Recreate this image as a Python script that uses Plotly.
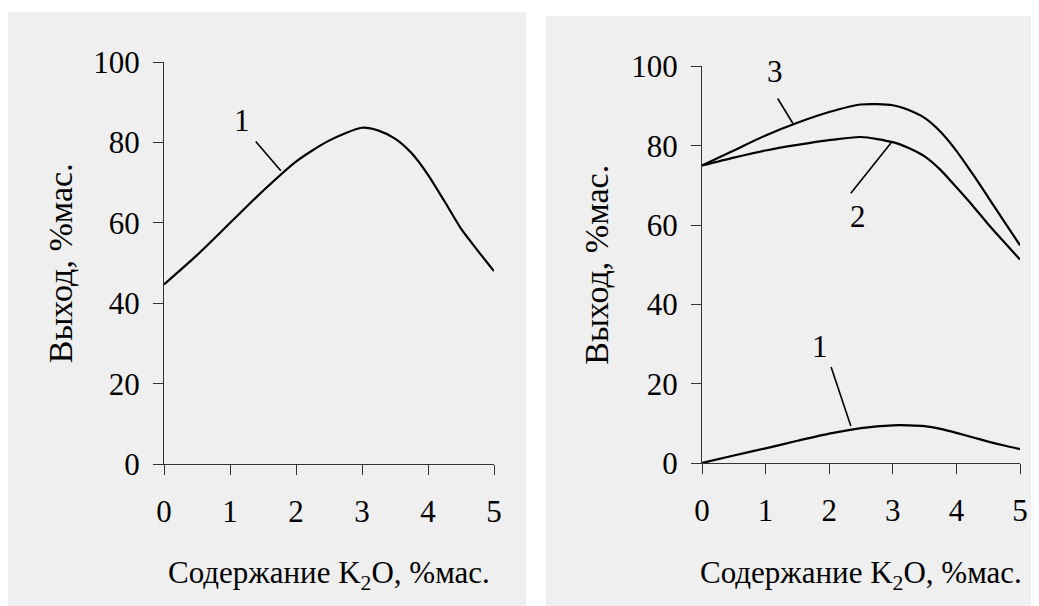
import plotly.graph_objects as go

W, H = 1039, 606
OFF = 8  # page offset of the figure inside the browser window

# ---------------- data ----------------
x_a = [0, 0.5, 1, 1.5, 2, 2.5, 3, 3.25, 3.5, 3.75, 4, 4.25, 4.5, 4.75, 5]
y_a1 = [44.7, 52, 60, 68, 75.3, 80.5, 83.7, 83.0, 81.0, 77.4, 72, 65.4, 58.6, 53.2, 48]

x_b = [0, 0.5, 1, 1.5, 2, 2.5, 3, 3.25, 3.5, 3.75, 4, 4.25, 4.5, 4.75, 5]
y_b1 = [0, 1.9, 3.7, 5.6, 7.4, 8.8, 9.5, 9.5, 9.3, 8.6, 7.6, 6.5, 5.4, 4.4, 3.5]
y_b2 = [75, 77, 78.8, 80.2, 81.4, 82.2, 80.9, 79.4, 77.3, 73.9, 69.5, 65.0, 60.2, 55.7, 51.3]
y_b3 = [75, 78.8, 82.6, 85.8, 88.5, 90.4, 90.2, 89.0, 87, 83.5, 78.7, 73.0, 67, 60.9, 54.9]

x_ticks = [0, 1, 2, 3, 4, 5]
y_ticks = [0, 20, 40, 60, 80, 100]

y_title = "Выход, %мас."
x_title = "Содержание K<sub>2</sub>O, %мас."
panel_titles = ["а", "б"]

# curve labels: (text, label_x, label_y, leader_x0, leader_y0, leader_x1, leader_y1)
labels_a = [("1", 1.18, 85.6, 1.39, 80.3, 1.77, 73.0)]
labels_b = [
    ("3", 1.14, 98.7, 1.19, 91.9, 1.43, 85.6),
    ("2", 2.46, 62.2, 2.34, 68.0, 2.98, 80.9),
    ("1", 1.86, 29.5, 2.03, 24.2, 2.34, 9.3),
]
title_pos = [(2.38, 101.5), (2.67, 103.3)]

# ---------------- figure ----------------
FONT = "Liberation Serif"
BG = "#efefef"
FS = 31


def px(x):
    return (x - OFF) / W


def py(y):
    return 1 - (y - OFF) / H


fig = go.Figure()

line_style = dict(color="black", width=2.2, shape="spline", smoothing=0.7)
fig.add_trace(go.Scatter(x=x_a, y=y_a1, mode="lines", line=line_style, xaxis="x", yaxis="y", showlegend=False))
for yy in (y_b1, y_b2, y_b3):
    fig.add_trace(go.Scatter(x=x_b, y=yy, mode="lines", line=line_style, xaxis="x2", yaxis="y2", showlegend=False))

# background panels
fig.add_shape(type="rect", xref="paper", yref="paper", x0=px(8), x1=px(526), y0=py(640), y1=py(12),
              fillcolor=BG, line=dict(width=0), layer="below")
fig.add_shape(type="rect", xref="paper", yref="paper", x0=px(546), x1=px(1060), y0=py(640), y1=py(16),
              fillcolor=BG, line=dict(width=0), layer="below")

dom_xa = [px(164), px(494)]
dom_ya = [py(464), py(62.3)]
dom_xb = [px(702), px(1020)]
dom_yb = [py(463), py(66.4)]

tickfont = dict(family=FONT, size=FS, color="black")
xax = dict(range=[0, 5], tickvals=x_ticks, ticks="outside", ticklen=10, tickwidth=1, tickcolor="#333",
           showline=True, linecolor="#333", linewidth=1, showgrid=False, zeroline=False, automargin=False,
           tickfont=tickfont, ticklabelstandoff=10, fixedrange=True)
yax = dict(range=[0, 100], tickvals=y_ticks, ticks="outside", ticklen=10, tickwidth=1, tickcolor="#333",
           showline=True, linecolor="#333", linewidth=1, showgrid=False, zeroline=False, automargin=False,
           tickfont=tickfont, ticklabelstandoff=7, fixedrange=True)

fig.update_layout(
    width=W, height=H,
    margin=dict(l=0, r=0, t=0, b=0, pad=0, autoexpand=False),
    paper_bgcolor="white", plot_bgcolor="rgba(0,0,0,0)",
    xaxis=dict(xax, domain=dom_xa, anchor="y"),
    yaxis=dict(yax, domain=dom_ya, anchor="x"),
    xaxis2=dict(xax, domain=dom_xb, anchor="y2"),
    yaxis2=dict(yax, domain=dom_yb, anchor="x2"),
    font=dict(family=FONT, color="black"),
)

anns = []
for (dx, dy), xc in (((dom_xa, dom_ya), 60), ((dom_xb, dom_yb), 597)):
    anns.append(dict(xref="paper", yref="paper", x=px(xc), y=(dy[0] + dy[1]) / 2, text=y_title,
                     textangle=-90, showarrow=False, font=dict(family=FONT, size=34), xanchor="center", yanchor="middle"))
    anns.append(dict(xref="paper", yref="paper", x=(dx[0] + dx[1]) / 2, y=py(575), text=x_title,
                     showarrow=False, font=dict(family=FONT, size=FS), xanchor="center", yanchor="middle"))

for (tx, ty), t, xr, yr in zip(title_pos, panel_titles, ("x", "x2"), ("y", "y2")):
    anns.append(dict(xref=xr, yref=yr, x=tx, y=ty, text=t, showarrow=False,
                     font=dict(family=FONT, size=FS), xanchor="center", yanchor="middle"))

for labs, xr, yr in ((labels_a, "x", "y"), (labels_b, "x2", "y2")):
    for t, lx, ly, x0, y0, x1, y1 in labs:
        anns.append(dict(xref=xr, yref=yr, x=lx, y=ly, text=t, showarrow=False,
                         font=dict(family=FONT, size=FS), xanchor="center", yanchor="middle"))
        fig.add_shape(type="line", xref=xr, yref=yr, x0=x0, y0=y0, x1=x1, y1=y1,
                      line=dict(color="black", width=1.6))

fig.update_layout(annotations=anns)

fig.write_html("out.html")
